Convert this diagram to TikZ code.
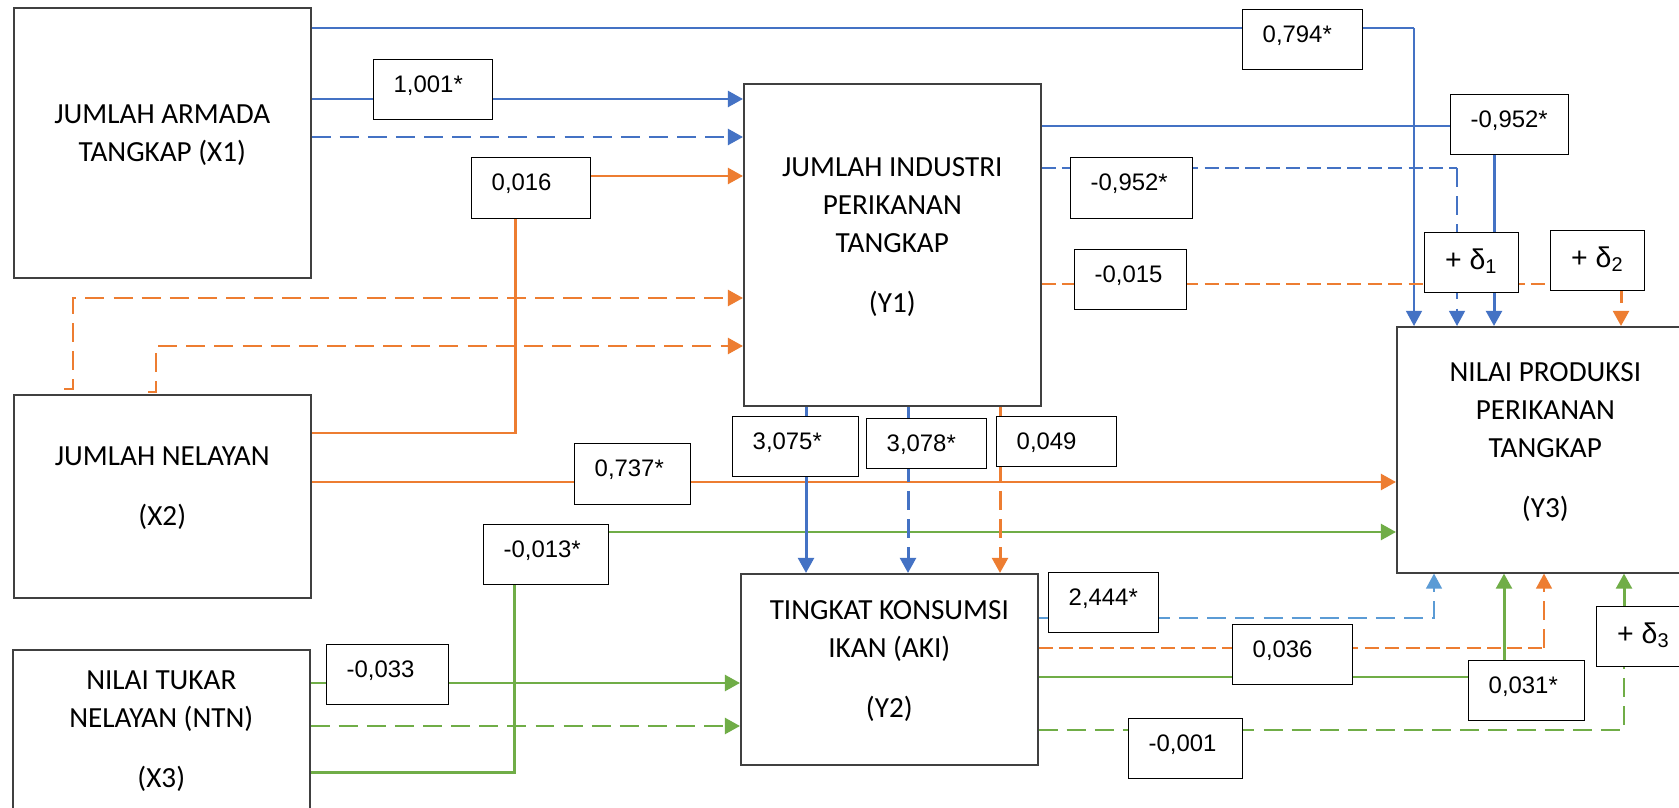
\documentclass[tikz,border=0pt]{standalone}
\usepackage{fontspec}
\setmainfont{Carlito}
\newfontfamily\numfont{Liberation Sans}
\usepackage{tikz}
\usetikzlibrary{arrows.meta}

\definecolor{pblue}{RGB}{68,114,196}
\definecolor{lblue}{RGB}{91,155,213}
\definecolor{porange}{RGB}{237,125,49}
\definecolor{pgreen}{RGB}{112,173,71}
\definecolor{boxgray}{RGB}{64,64,64}

\newcommand{\lowpad}{\rule[-5.7pt]{0pt}{5.7pt}}
\pgfdeclarelayer{bg}
\pgfsetlayers{bg,main}

\begin{document}
\begin{tikzpicture}[x=0.1mm,y=-0.1mm,
  var/.style={draw=boxgray,line width=0.45pt,fill=white,anchor=north west,inner sep=0pt,
    align=center,minimum width=29.7mm,minimum height=#1,font=\fontsize{8.3}{10.8}\selectfont},
  coef/.style 2 args={draw,line width=0.4pt,fill=white,anchor=north west,inner xsep=2mm,inner ysep=0pt,
    text width=#1,align=left,text height=3.3mm,text depth=#2,font=\numfont\fontsize{6.8}{8}\selectfont},
  err/.style={draw,line width=0.4pt,fill=white,anchor=north west,inner sep=0pt,minimum width=9.4mm,
    text height=3.7mm,text depth=2.3mm,font=\numfont\fontsize{8.1}{9}\selectfont},
  wide/.style={line width=0.85pt},
  mid/.style={line width=0.6pt},
  fine/.style={line width=0.4pt},
  brk/.style={dash pattern=on 5.4pt off 2.6pt},
  fbrk/.style={dash pattern=on 4pt off 1.8pt},
  arr/.style={-{Triangle[length=4.3pt,width=4.5pt]}}]

\useasboundingbox (0,0) rectangle (1679,808);
\clip (0,0) rectangle (1679,808);

% Variable boxes
\node[var=27mm] (x1) at (13,7) {JUMLAH ARMADA\\TANGKAP (X1)\lowpad};
\node[var=20.3mm] (x2) at (13,394) {JUMLAH NELAYAN\\[6.3pt](X2)\lowpad};
\node[var=17.8mm] (x3) at (12,649) {NILAI TUKAR\\NELAYAN (NTN)\\[6.3pt](X3)\lowpad};
\node[var=32.2mm] (y1) at (743,83) {JUMLAH INDUSTRI\\PERIKANAN\\TANGKAP\\[6.3pt](Y1)\lowpad};
\node[var=19.1mm] (y2) at (740,573) {TINGKAT KONSUMSI\\IKAN (AKI)\\[6.3pt](Y2)\lowpad};
\node[var=24.6mm] (y3) at (1396,326) {NILAI PRODUKSI\\PERIKANAN\\TANGKAP\\[6.3pt](Y3)\lowpad};

% Path coefficients
\node[coef={8.0mm}{2.7mm}] (c794) at (1242,9) {0,794*};
\node[coef={7.9mm}{2.7mm}] (c1001) at (373,59) {1,001*};
\node[coef={7.9mm}{2.8mm}] (c016) at (471,157) {0,016};
\node[coef={8.2mm}{2.8mm}] (c952a) at (1070,157) {-0,952*};
\node[coef={7.8mm}{2.7mm}] (c952b) at (1450,94) {-0,952*};
\node[coef={7.2mm}{2.7mm}] (c015) at (1074,249) {-0,015};
\node[coef={8.6mm}{2.7mm}] (c3075) at (732,416) {3,075*};
\node[coef={8.0mm}{1.7mm}] (c3078) at (866,418) {3,078*};
\node[coef={8.0mm}{1.7mm}] (c049) at (996,416) {0,049};
\node[coef={7.6mm}{2.8mm}] (c737) at (574,443) {0,737*};
\node[coef={8.5mm}{2.7mm}] (c013) at (483,524) {-0,013*};
\node[coef={7.0mm}{2.7mm}] (c2444) at (1048,572) {2,444*};
\node[coef={8.2mm}{2.7mm}] (c033) at (326,644) {-0,033};
\node[coef={8.0mm}{2.7mm}] (c036) at (1232,624) {0,036};
\node[coef={7.6mm}{2.7mm}] (c031) at (1468,660) {0,031*};
\node[coef={7.4mm}{2.7mm}] (c001) at (1128,718) {-0,001};

% Error terms
\node[err] (d1) at (1424,232) {+ δ\textsubscript{1}};
\node[err] (d2) at (1550,230) {+ δ\textsubscript{2}};
\node[err] (d3) at (1596,606) {+ δ\textsubscript{3}};

\begin{pgfonlayer}{bg}
\fill[white] (0,0) rectangle (1679,808);

% From X1
\coordinate (k794) at (1414,28);
\draw[pblue,fine] (x1.east |- k794) -- (k794);
\draw[pblue,mid,arr] (k794) -- (k794 |- y3.north);
\draw[pblue,wide,arr] (x1.east |- 0,99) -- (y1.west |- 0,99);
\draw[pblue,wide,brk,arr] (x1.east |- 0,137) -- (y1.west |- 0,137);

% From X2
\coordinate (s1) at (64,389);
\coordinate (s2) at (148,392);
\draw[porange,wide,arr] (x2.east |- 0,433) -| (515,176) -- (y1.west |- 0,176);
\draw[porange,wide,brk,arr] (s1) -| (73,298) -- (y1.west |- 0,298);
\draw[porange,wide,brk,arr] (s2) -| (156,346) -- (y1.west |- 0,346);
\draw[porange,wide,arr] (x2.east |- 0,482) -- (y3.west |- 0,482);

% From X3
\draw[pgreen,wide,arr] (x3.east |- 0,683) -- (y2.west |- 0,683);
\draw[pgreen,wide,brk,arr] (x3.east |- 0,726) -- (y2.west |- 0,726);
\draw[pgreen,wide,arr] (x3.east |- 0,772) -| (514,532) -- (y3.west |- 0,532);

% From Y1
\draw[pblue,wide,arr] (806,0 |- y1.south) -- (806,0 |- y2.north);
\draw[pblue,wide,brk,arr] (908,0 |- y1.south) -- (908,0 |- y2.north);
\draw[porange,wide,brk,arr] (1000,0 |- y1.south) -- (1000,0 |- y2.north);
\coordinate (k952) at (1494,126);
\draw[pblue,fine] (y1.east |- k952) -- (k952);
\draw[pblue,wide,arr] (k952) -- (k952 |- y3.north);
\coordinate (kd1) at (1457,168);
\draw[pblue,fine,fbrk] (y1.east |- kd1) -- (kd1);
\draw[pblue,mid,brk,arr] (kd1) -- (kd1 |- y3.north);
\coordinate (kd2) at (1621,284);
\draw[porange,fine,fbrk] (y1.east |- kd2) -- (kd2);
\draw[porange,wide,brk,arr] (kd2) -- (kd2 |- y3.north);

% From Y2
\draw[lblue,mid,brk,arr] (y2.east |- 0,618) -| (1434,0 |- y3.south);
\coordinate (k036) at (1544,648);
\draw[porange,fine,fbrk] (y2.east |- k036) -- (k036);
\draw[porange,mid,brk,arr] (k036) -- (k036 |- y3.south);
\draw[pgreen,wide,arr] (y2.east |- 0,677) -| (1504,0 |- y3.south);
\coordinate (kd3) at (1624,730);
\draw[pgreen,mid,brk] (y2.east |- kd3) -- (kd3) -- (kd3 |- d3.south);
\draw[pgreen,wide,arr] (kd3 |- d3.north) -- (kd3 |- y3.south);
\end{pgfonlayer}

\end{tikzpicture}
\end{document}
